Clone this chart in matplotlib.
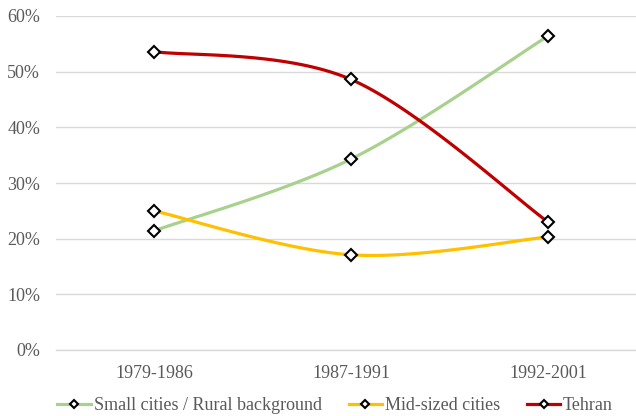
import numpy as np
import matplotlib
matplotlib.use("Agg")
import matplotlib.pyplot as plt
from matplotlib.lines import Line2D

categories = ["1979-1986", "1987-1991", "1992-2001"]
small_cities = [21.4, 34.3, 56.4]
mid_sized = [25.0, 17.1, 20.3]
tehran = [53.6, 48.6, 23.0]
series_names = ["Small cities / Rural background", "Mid-sized cities", "Tehran"]
colors = ["#A9D18E", "#FFC000", "#C00000"]

plt.rcParams['font.family'] = ['Liberation Serif', 'DejaVu Serif']

def smooth(y, n=60):
    x = np.arange(len(y), dtype=float)
    y = np.asarray(y, dtype=float)
    xs, ys = [], []
    for i in range(len(y) - 1):
        p0 = np.array([x[i], y[i]]); p3 = np.array([x[i+1], y[i+1]])
        prev = np.array([x[i-1], y[i-1]]) if i > 0 else p0
        nxt = np.array([x[i+2], y[i+2]]) if i + 2 < len(y) else p3
        p1 = p0 + (p3 - prev) / 6.0
        p2 = p3 - (nxt - p0) / 6.0
        t = np.linspace(0, 1, n)[:, None]
        b = (1-t)**3*p0 + 3*(1-t)**2*t*p1 + 3*(1-t)*t**2*p2 + t**3*p3
        xs.append(b[:, 0]); ys.append(b[:, 1])
    return np.concatenate(xs), np.concatenate(ys)

fig = plt.figure(figsize=(6.36, 4.16), dpi=100)
ax = fig.add_axes([55.5/636, 66/416, (636-55.5)/636, (350-16)/416])

handles = []
for vals, col, name in zip([small_cities, mid_sized, tehran], colors, series_names):
    sx, sy = smooth(vals)
    ax.plot(sx, sy, color=col, lw=2.3, solid_capstyle='round', zorder=2)
    ax.plot(range(len(vals)), vals, linestyle='none', marker='D', markersize=6.5,
            markerfacecolor='white', markeredgecolor='black', markeredgewidth=1.5, zorder=3)
    handles.append(Line2D([0], [0], color=col, lw=2.3, marker='D', markersize=4.5,
                          markerfacecolor='white', markeredgecolor='black', markeredgewidth=1.5))

ax.set_xlim(-0.5, (636-154)/197)
ax.set_ylim(0, 60)
ax.set_yticks(range(0, 61, 10))
ax.set_yticklabels([f"{v}%" for v in range(0, 61, 10)])
ax.set_xticks(range(len(categories)))
ax.set_xticklabels(categories)
ax.grid(axis='y', color='#D9D9D9', lw=1.0)
ax.set_axisbelow(True)
for s in ['top', 'right', 'left']:
    ax.spines[s].set_visible(False)
ax.spines['bottom'].set_color('#D9D9D9')
ax.spines['bottom'].set_linewidth(1.0)
ax.tick_params(axis='both', length=0, labelsize=13, labelcolor='#595959')
ax.tick_params(axis='x', pad=11)
ax.tick_params(axis='y', pad=11)

fig.legend(handles, series_names, loc='lower center', bbox_to_anchor=(0.527, -0.034),
           ncol=3, frameon=False, fontsize=13, labelcolor='#595959',
           handlelength=1.85, handletextpad=0.15, columnspacing=1.5)

fig.savefig("out.png", dpi=100)
